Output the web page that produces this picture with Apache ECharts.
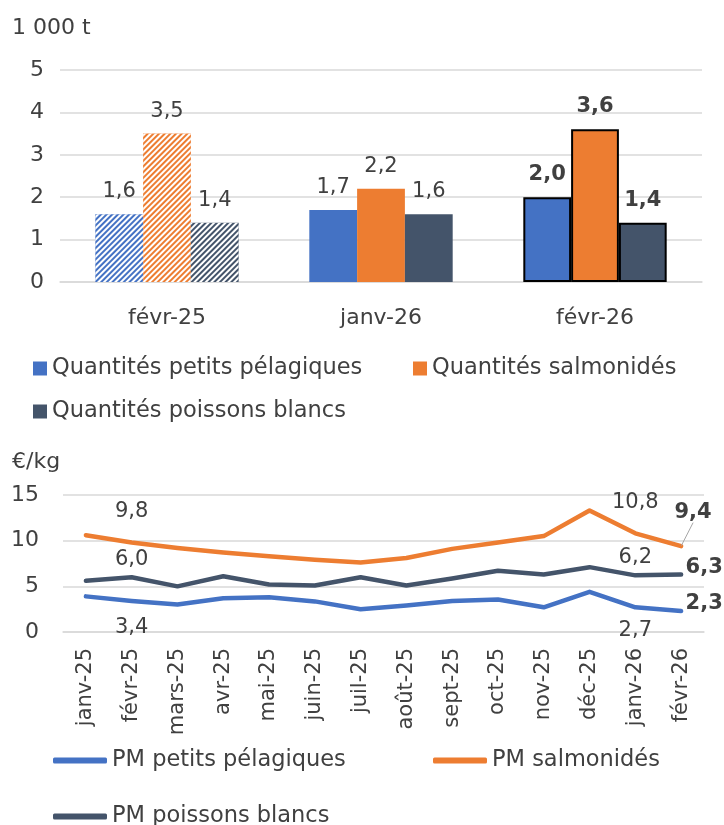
<!DOCTYPE html>
<html>
<head>
<meta charset="utf-8">
<script src="https://cdn.jsdelivr.net/npm/echarts@6/dist/echarts.min.js"></script>
<style>
  html, body { margin: 0; padding: 0; background: #fff; }
  #chart { width: 724px; height: 825px; }
</style>
</head>
<body>
<div id="chart"></div>
<script>
// quantities (1 000 t)
const qtyCats = ['févr-25', 'janv-26', 'févr-26'];
const qtyPelagiques = [1.6, 1.7, 2.0];
const qtySalmonides = [3.5, 2.2, 3.6];
const qtyBlancs = [1.4, 1.6, 1.4];

// prix moyens (€/kg)
const months = ['janv-25', 'févr-25', 'mars-25', 'avr-25', 'mai-25', 'juin-25', 'juil-25',
  'août-25', 'sept-25', 'oct-25', 'nov-25', 'déc-25', 'janv-26', 'févr-26'];
const pmPelagiques = [3.9, 3.4, 3.0, 3.7, 3.8, 3.35, 2.5, 2.9, 3.4, 3.55, 2.7, 4.4, 2.7, 2.3];
const pmSalmonides = [10.6, 9.8, 9.2, 8.7, 8.3, 7.9, 7.6, 8.1, 9.1, 9.8, 10.5, 13.3, 10.8, 9.4];
const pmBlancs = [5.6, 6.0, 5.0, 6.1, 5.2, 5.1, 6.0, 5.1, 5.85, 6.7, 6.3, 7.1, 6.2, 6.3];

const FONT = 'DejaVu Sans';
const TXT = '#404040';
const GRID = '#D9D9D9';
const BLUE = '#4472C4', ORANGE = '#ED7D31', SLATE = '#44546A';

const fmt = v => v.toFixed(1).replace('.', ',');

const hatch = {
  symbol: 'rect', symbolSize: 1,
  dashArrayX: [1, 0], dashArrayY: [2, 1.6],
  rotation: -Math.PI / 4, color: '#fff'
};

function barData(values) {
  return values.map((v, i) => {
    if (i === 0) return { value: v, itemStyle: { decal: hatch } };
    if (i === 2) return {
      value: v,
      itemStyle: { borderColor: '#000', borderWidth: 2 },
      label: { fontWeight: 'bold' }
    };
    return v;
  });
}

// labels on févr-25, janv-26, févr-26 only
function lineData(values, pos, dists) {
  return values.map((v, i) => {
    if (i === 1) return { value: v, label: { show: true, position: pos, distance: dists[0] } };
    if (i === 12) return { value: v, label: { show: true, position: pos, distance: dists[1] } };
    if (i === 13) return { value: v, label: { show: true, position: 'right', fontWeight: 'bold', distance: 4, offset: [0, -7] } };
    return v;
  });
}

const chart = echarts.init(document.getElementById('chart'));

const barSeries = (name, color, values) => ({
  name: name, type: 'bar', xAxisIndex: 0, yAxisIndex: 0,
  barGap: '0%', barCategoryGap: '33%',
  itemStyle: { color: color },
  label: { show: true, position: 'top', distance: 12, color: TXT, fontSize: 21, fontFamily: FONT, formatter: p => fmt(p.value) },
  data: barData(values)
});

const lineSeries = (name, color, data) => ({
  name: name, type: 'line', xAxisIndex: 1, yAxisIndex: 1,
  symbol: 'circle', symbolSize: 1, showSymbol: true,
  lineStyle: { color: color, width: 4.5, cap: 'round', join: 'round' },
  itemStyle: { color: color },
  label: { color: TXT, fontSize: 21, fontFamily: FONT, formatter: p => fmt(p.value) },
  emphasis: { disabled: true },
  data: data
});

const legendBase = {
  textStyle: { color: TXT, fontSize: 22.5, fontFamily: FONT },
  selectedMode: false
};

const salmonLine = lineSeries('PM salmonidés', ORANGE, lineData(pmSalmonides, 'top', [20, 20]));
salmonLine.data[13].label = { show: true, position: 'top', fontWeight: 'bold', distance: 5 };
salmonLine.data[13].labelLine = { show: true, lineStyle: { color: '#A6A6A6', width: 1 } };
salmonLine.labelLayout = p => p.dataIndex === 13 ? { dx: 12, dy: -18 } : {};
salmonLine.labelLine = { show: false };

const option = {
  animation: false,
  backgroundColor: '#fff',
  title: [
    { text: '1 000 t', left: 7, top: 12, textStyle: { color: TXT, fontSize: 22, fontWeight: 'normal', fontFamily: FONT } },
    { text: '€/kg', left: 7, top: 446, textStyle: { color: TXT, fontSize: 22, fontWeight: 'normal', fontFamily: FONT } }
  ],
  legend: [
    Object.assign({ data: ['Quantités petits pélagiques'], left: 28, top: 352, icon: 'rect', itemWidth: 14, itemHeight: 14 }, legendBase),
    Object.assign({ data: ['Quantités salmonidés'], left: 408, top: 352, icon: 'rect', itemWidth: 14, itemHeight: 14 }, legendBase),
    Object.assign({ data: ['Quantités poissons blancs'], left: 28, top: 395, icon: 'rect', itemWidth: 14, itemHeight: 14 }, legendBase),
    Object.assign({ data: ['PM petits pélagiques'], left: 48, top: 744, icon: 'roundRect', itemWidth: 54, itemHeight: 6 }, legendBase),
    Object.assign({ data: ['PM salmonidés'], left: 428, top: 744, icon: 'roundRect', itemWidth: 54, itemHeight: 6 }, legendBase),
    Object.assign({ data: ['PM poissons blancs'], left: 48, top: 800, icon: 'roundRect', itemWidth: 54, itemHeight: 6 }, legendBase)
  ],
  grid: [
    { left: 60, right: 22, top: 70, height: 212 },
    { left: 63, right: 20, top: 495, height: 137 }
  ],
  xAxis: [
    {
      type: 'category', gridIndex: 0, data: qtyCats,
      axisLine: { lineStyle: { color: GRID, width: 1.5 } }, axisTick: { show: false },
      axisLabel: { color: TXT, fontSize: 22, fontFamily: FONT, margin: 25 }
    },
    {
      type: 'category', gridIndex: 1, data: months, boundaryGap: true,
      axisLine: { lineStyle: { color: GRID, width: 1.5 } }, axisTick: { show: false },
      axisLabel: { color: TXT, fontSize: 21, fontFamily: FONT, rotate: 90, margin: 16, interval: 0 }
    }
  ],
  yAxis: [
    {
      type: 'value', gridIndex: 0, min: 0, max: 5, interval: 1,
      axisLine: { show: false }, axisTick: { show: false },
      splitLine: { lineStyle: { color: GRID, width: 1.5 } },
      axisLabel: { color: TXT, fontSize: 22, fontFamily: FONT, margin: 16 }
    },
    {
      type: 'value', gridIndex: 1, min: 0, max: 15, interval: 5,
      axisLine: { show: false }, axisTick: { show: false },
      splitLine: { lineStyle: { color: GRID, width: 1.5 } },
      axisLabel: { color: TXT, fontSize: 22, fontFamily: FONT, margin: 24 }
    }
  ],
  series: [
    barSeries('Quantités petits pélagiques', BLUE, qtyPelagiques),
    barSeries('Quantités salmonidés', ORANGE, qtySalmonides),
    barSeries('Quantités poissons blancs', SLATE, qtyBlancs),
    lineSeries('PM petits pélagiques', BLUE, lineData(pmPelagiques, 'bottom', [16, 12])),
    salmonLine,
    lineSeries('PM poissons blancs', SLATE, lineData(pmBlancs, 'top', [7, 7]))
  ]
};

chart.setOption(option);
</script>
</body>
</html>
